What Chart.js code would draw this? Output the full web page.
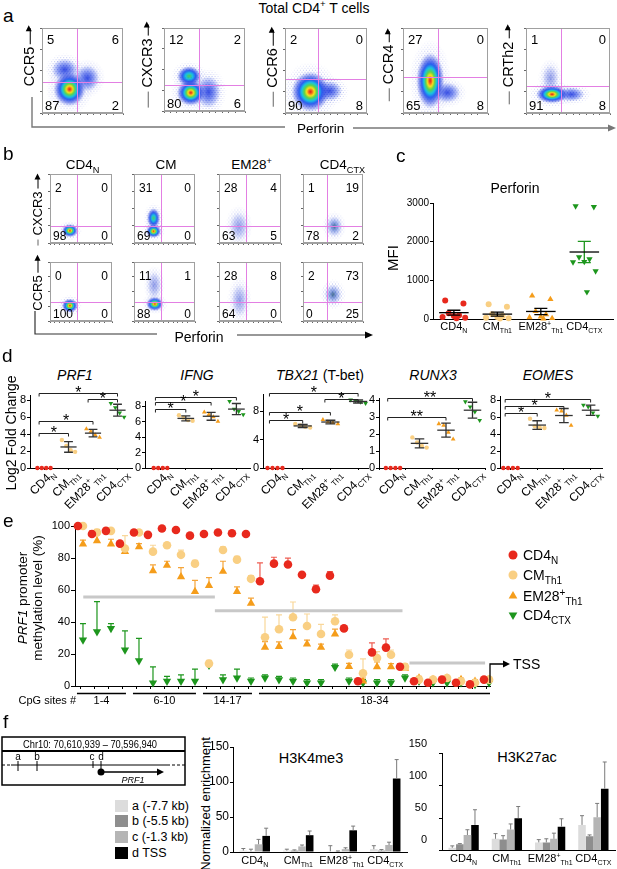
<!DOCTYPE html>
<html>
<head>
<meta charset="utf-8">
<title>PRF1 in CD4 CTX</title>
<script src="https://cdn.jsdelivr.net/npm/chart.js@4.4.1/dist/chart.umd.min.js"></script>
<style>
  body { margin: 0; background: #fff; }
  #page { position: relative; width: 617px; height: 869px; overflow: hidden; font-family: 'Liberation Sans', Arial, sans-serif; color: #000; }
  #page canvas { position: absolute; }
  .t { position: absolute; white-space: nowrap; line-height: 1; }
  .c { transform: translate(-50%, -50%); }
  .v { transform: translate(0, -50%); }
  .r { transform: translate(-50%, -50%) rotate(-90deg); }
  .t sub, .t sup { font-size: 68%; line-height: 0; }
  svg { position: absolute; left: 0; top: 0; }
</style>
</head>
<body>
<div id="page"></div>
<script>
const FONT = "'Liberation Sans', Arial, Helvetica, sans-serif";

// ===== data =====
// a: total CD4+ T cells, receptor (y) vs perforin (x); quadrant % = UL, UR, LL, LR
const aMarkers = ['CCR5', 'CXCR3', 'CCR6', 'CCR4', 'CRTh2'];
const aQuadPct = [[5, 6, 87, 2], [12, 2, 80, 6], [2, 0, 90, 8], [27, 0, 65, 8], [1, 0, 91, 8]];
const aGates = [[43, 37], [43, 31], [40, 40], [41, 42], [42, 32]];
const aClusters = [
  [[28, 51], [56, 41], [34, 28]],
  [[31, 42], [55, 23], [33, 22]],
  [[54, 26], [31, 25]],
  [[52, 24], [32, 38]],
  [[29, 41], [54, 22], [31, 22]]
];

// b: sorted subsets, CXCR3 / CCR5 vs perforin
const bPops = ['CD4_{N}', 'CM', 'EM28^{+}', 'CD4_{CTX}'];
const bMarkers = ['CXCR3', 'CCR5'];
const bQuadPct = [
  [[2, 0, 98, 0], [31, 0, 69, 0], [28, 4, 63, 5], [1, 19, 78, 2]],
  [[0, 0, 100, 0], [11, 1, 88, 0], [28, 8, 64, 0], [2, 73, 0, 25]]
];
const bGatesX = [43, 44, 43, 40];
const bGatesY = [25, 33];
const bClusters = [
  [[[32, 18]], [[32, 36], [32, 17]], [[32, 24]], [[52, 24]]],
  [[[32, 26]], [[33, 61], [34, 29]], [[33, 35]], [[50, 45]]]
];

// c: perforin MFI
const cGroups = ['CD4_{N}', 'CM_{Th1}', 'EM28^{+}_{Th1}', 'CD4_{CTX}'];
const cCD4N = [480, 400, 150, 100, 80, 50, 30, 20];
const cCM = [380, 320, 120, 80, 50, 30, 20, 10];
const cEM28 = [600, 510, 200, 120, 60, 40, 20, 10];
const cCTX = [2920, 2900, 1600, 1550, 1480, 1470, 1240, 700];

// d: log2 fold change vs CD4N (rows: CD4N, CM, EM28, CTX)
const dGenes = ['PRF1', 'IFNG', 'TBX21', 'RUNX3', 'EOMES'];
const dPRF1 = [[0, 0, 0, 0], [3.3, 2.6, 2.1, 1.9], [4.6, 4.3, 3.9, 3.6], [7.6, 7.1, 6.5, 6.0]];
const dIFNG = [[0, 0, 0, 0], [6.8, 6.5, 6.2, 6.1], [7.2, 6.9, 6.6, 6.0], [8.6, 7.6, 7.3, 6.9]];
const dTBX21 = [[0, 0, 0, 0], [6.2, 6.0, 5.8, 5.7], [6.8, 6.5, 6.4, 6.2], [9.6, 9.5, 9.3, 9.1]];
const dRUNX3 = [[0, 0, 0, 0], [1.8, 1.5, 1.3, 1.2], [2.6, 2.5, 2.1, 1.7], [3.9, 3.6, 3.3, 2.8]];
const dEOMES = [[0, 0, 0, 0], [5.8, 4.9, 4.8, 4.7], [6.8, 6.7, 6.2, 5.0], [7.4, 7.2, 6.5, 6.1]];
// significance: [from group, to group, label, bracket height]
const dSig = [
  [[0, 3, '*', 8.8], [2, 3, '*', 8.1], [0, 2, '*', 5.5], [0, 1, '*', 4.1]],
  [[0, 3, '*', 9.2], [0, 2, '*', 8.5], [0, 1, '*', 7.6]],
  [[0, 3, '*', 10.6], [2, 3, '*', 9.7], [0, 2, '*', 7.9], [0, 1, '*', 6.8]],
  [[0, 3, '**', 4.1], [0, 2, '**', 3.0]],
  [[0, 3, '*', 8.1], [0, 2, '*', 7.3], [0, 1, '*', 6.5]]
];

// e: PRF1 promoter CpG methylation (%), mean and upper SEM
const eSites = [1, 2, 3, 4, 6, 7, 8, 9, 10, 14, 15, 16, 17, 18, 19, 20, 21, 22, 23, 24, 25, 26, 27, 28, 29, 30, 31, 32, 33, 34];
const eCD4N = [100, 95, 97, 89, 96, 94.5, 98.5, 97.5, 94, 95, 96, 95.5, 95, 65.5, 76.5, 76, 69.5, 60.5, 69, 36, 3, 21, 24, 12, 3, 2, 4, 2, 1, 4];
const eCD4Nerr = [0, 2, 1.5, 1, 0.5, 1, 1, 1, 1, 1, 1, 1, 1.5, 11.5, 4, 4, 0.5, 2.5, 2.5, 0.5, 0.5, 6, 5.5, 2, 1, 1, 1, 1, 1, 1];
const eCM = [100, 96, 97, 86, 96, 84, 88, 82, 76.5, 14, 85, 79, 67, 30.5, 35.5, 43, 37.5, 32.5, 40.5, 19.5, 8, 17.5, 19.5, 12, 4, 4, 5, 3, 2, 4];
const eCMerr = [0, 2, 1, 8, 1, 4, 1, 3, 2, 2, 2, 2, 2, 12.5, 9, 9.5, 7.5, 6, 4, 3, 9, 4, 3, 2, 1, 1, 1, 1, 1, 1];
const eEM28 = [88.75, 90.8, 88.75, 84, 87, 72, 75.5, 68.3, 59, 62.8, 71.6, 59, 51.7, 24.2, 24.6, 30.8, 26.2, 24.2, 32.5, 12.1, 3, 12, 12, 11, 5, 4, 5, 4, 3, 4];
const eEM28err = [2.5, 7, 3, 2, 2, 3.7, 2.5, 5.7, 7, 5, 6.4, 3, 3.2, 3.5, 3, 4.5, 2.5, 2, 3, 2, 2, 3, 2, 2, 1, 1, 1, 1, 1, 1];
const eCTX = [28.75, 34, 36, 22.5, 15.8, 2, 3, 3, 3, 13, 4, 5, 3, 5, 4, 3, 2, 2, 11.7, 3, 2, 2, 2, 5, 3, 2, 2, 2, 1, 2];
const eCTXerr = [10.25, 18.7, 3, 12, 14, 10, 3, 4, 7.6, 2, 3, 5.6, 2, 2, 2, 2, 2, 2, 2, 2, 2, 2, 2, 2, 1, 1, 1, 1, 1, 1];
const eGroups = [['1-4', 1, 4], ['6-10', 6, 10], ['14-17', 14, 17], ['18-34', 18, 34]];
// grey region means: [from slot, to slot, level]
const eMeanLines = [[0.2, 9.6, 55.6], [9.6, 23, 47], [23.5, 28.9, 14.4]];
const eLegend = ['CD4_{N}', 'CM_{Th1}', 'EM28^{+}_{Th1}', 'CD4_{CTX}'];

// f: ChIP enrichment (rows: site a, b, c, d TSS; cols: groups)
const fGroups = ['CD4_{N}', 'CM_{Th1}', 'EM28^{+}_{Th1}', 'CD4_{CTX}'];
const fSites = ['a (-7.7 kb)', 'b (-5.5 kb)', 'c (-1.3 kb)', 'd TSS'];
const fK4me3 = [[2, 2, 1, 4], [1, 2, 0.5, 2], [11, 8, 4, 10], [23, 24, 31, 105]];
const fK4me3Err = [[3, 2, 8, 5], [3, 1, 1, 1.5], [7, 2, 2, 4], [11, 6, 6, 27]];
const fK27ac = [[4, 18, 12.4, 39.5], [9.5, 16.7, 12.4, 21.9], [23.8, 32.4, 18, 51.4], [39.5, 50, 36.7, 95.7]];
const fK27acErr = [[3, 8, 4.3, 14.3], [1, 6.1, 5.6, 2.1], [8.2, 8.6, 8.7, 21.4], [23.5, 18, 12.3, 41.3]];

// ===== style / layout =====
const COL = ['#e8291d', '#f9cf83', '#f59d1b', '#1d961d'];
const ERRCOL = ['#ee5d52', '#f9d79a', '#f5a53a', '#1d961d'];
const MARK = [['circle', 0], ['circle', 0], ['triangle', 0], ['triangle', 180]];
const FCOL = ['#dcdcdc', '#8e8e8e', '#b5b5b5', '#000000'];
const aBoxes = [[40, 23, 128, 115], [162, 23, 250, 113], [283, 23, 372, 115], [401, 23, 493, 115], [524, 23, 615, 115]];
const aBlobs = [
  [['cool', 26, 22], ['cool', 24, 26], ['hot', 32, 34]],
  [['warm', 24, 20], ['cool', 24, 32], ['hot', 28, 26]],
  [['cool', 26, 20], ['hot', 38, 40]],
  [['cool', 26, 20], ['hot', 28, 56]],
  [['faint', 16, 26], ['cool', 26, 14], ['hot', 32, 18]]
];
const aLab = [[29, 57, 0, 16], [147, 66, 16, 11], [272, 68, 15, 16], [388, 66, 13, 11], [508, 66, 13, 11]];
const bCols = [[48, 117], [132, 200], [217, 286], [301, 368]];
const bRows = [[169, 245], [257, 323]];
const bBlobs = [
  [[['hot', 16, 13]], [['warm', 13, 20], ['hot', 15, 13]], [['faint', 18, 28]], [['gray', 16, 20]]],
  [[['hot', 16, 14]], [['faint', 14, 26], ['hot', 17, 14]], [['faint', 16, 32]], [['gray', 17, 20]]]
];
const cJit = [-0.2, 0.22, -0.12, 0.12, 0, -0.26, 0.26, 0.06];
const dJit = [-0.27, -0.09, 0.09, 0.27];
// [axis x, zero y, px per unit, y max, first group x, group step, axis end x, tick step]
const dGeom = [
  [30, 468, 8.5, 8.5, 44, 24.5, 132, 2],
  [145, 468, 7.75, 8.6, 160.5, 25.3, 250, 2],
  [263, 468, 7.1, 10.3, 275, 27.7, 368, 2],
  [379, 468, 17, 4.1, 393, 26.5, 485, 1],
  [500, 468, 8.5, 8.4, 510.5, 26.7, 602, 2]
];

Chart.defaults.font.family = FONT;
Chart.defaults.color = '#000';
Chart.defaults.animation = false;
Chart.defaults.events = [];
Chart.defaults.plugins.legend.display = false;
Chart.defaults.plugins.tooltip.enabled = false;

const page = document.getElementById('page');
const plain = v => String(v);

function addCanvas(l, t, w, h) {
  const c = document.createElement('canvas');
  c.width = w; c.height = h;
  c.style.left = l + 'px'; c.style.top = t + 'px';
  c.style.width = w + 'px'; c.style.height = h + 'px';
  page.appendChild(c);
  return c;
}
function rich2html(s) {
  return s.replace(/_\{([^}]*)\}/g, '<sub>$1</sub>').replace(/\^\{([^}]*)\}/g, '<sup>$1</sup>');
}
function text(html, x, y, size, cls, extra) {
  const d = document.createElement('div');
  d.className = 't ' + (cls || '');
  d.style.left = x + 'px'; d.style.top = y + 'px'; d.style.fontSize = size + 'px';
  if (extra) d.style.cssText += extra;
  d.innerHTML = html;
  page.appendChild(d);
}
function richParts(s) {
  const out = [], re = /([_^])\{([^}]*)\}|([^_^]+)/g;
  let m;
  while ((m = re.exec(s))) out.push(m[3] ? { t: m[3], k: 0 } : { t: m[2], k: m[1] === '_' ? 1 : -1 });
  return out;
}
function drawRich(ctx, s, x, y, size, align) {
  const parts = richParts(s);
  let w = 0;
  parts.forEach(p => {
    p.f = (p.k ? Math.round(size * 0.68) : size) + 'px ' + FONT;
    ctx.font = p.f; p.w = ctx.measureText(p.t).width; w += p.w;
  });
  let cx = align === 'right' ? x - w : align === 'center' ? x - w / 2 : x;
  ctx.textAlign = 'left'; ctx.textBaseline = 'alphabetic';
  parts.forEach(p => {
    ctx.font = p.f;
    ctx.fillText(p.t, cx, y + (p.k === 1 ? size * 0.28 : p.k === -1 ? -size * 0.38 : 0));
    cx += p.w;
  });
}

// density blobs for the flow plots: a dotted halo plus a coloured core
const blobStops = {
  hot: [[0, '#d8161a'], [0.1, '#f36a1a'], [0.2, '#fbe21e'], [0.32, '#5fd447'], [0.46, '#19c4e3'], [0.6, '#2b5cf0'], [0.78, 'rgba(45,70,225,0.55)'], [1, 'rgba(70,95,235,0)']],
  warm: [[0, '#56cf4a'], [0.3, '#19c4e3'], [0.55, '#2b5cf0'], [0.8, 'rgba(45,70,225,0.45)'], [1, 'rgba(70,95,235,0)']],
  cool: [[0, 'rgba(35,60,225,0.9)'], [0.45, 'rgba(45,75,230,0.6)'], [0.75, 'rgba(60,90,235,0.3)'], [1, 'rgba(80,110,240,0)']],
  faint: [[0, 'rgba(70,90,215,0.55)'], [0.6, 'rgba(90,110,225,0.28)'], [1, 'rgba(110,130,235,0)']],
  gray: [[0, 'rgba(40,90,120,0.85)'], [0.35, 'rgba(60,100,200,0.6)'], [0.75, 'rgba(90,120,230,0.25)'], [1, 'rgba(110,130,235,0)']]
};
function ellipseGrad(g, cx, cy, rx, ry, stops) {
  g.save();
  g.translate(cx, cy); g.scale(rx, ry);
  const grad = g.createRadialGradient(0, 0, 0, 0, 0, 1);
  stops.forEach(([o, col]) => grad.addColorStop(o, col));
  g.fillStyle = grad; g.fillRect(-1, -1, 2, 2);
  g.restore();
}
function makeBlob([kind, w, h]) {
  const W = Math.round(w * 1.5), H = Math.round(h * 1.5);
  const c = document.createElement('canvas');
  c.width = W; c.height = H;
  const g = c.getContext('2d');
  g.fillStyle = 'rgba(45,65,215,0.75)';
  for (let yy = 0; yy < H; yy += 2) {
    for (let xx = (yy / 2) % 2 ? 1.5 : 0; xx < W; xx += 3) g.fillRect(xx, yy, 1, 1);
  }
  g.globalCompositeOperation = 'destination-in';
  ellipseGrad(g, W / 2, H / 2, W / 2, H / 2, [[0, 'rgba(0,0,0,1)'], [0.6, 'rgba(0,0,0,0.6)'], [1, 'rgba(0,0,0,0)']]);
  g.globalCompositeOperation = 'source-over';
  ellipseGrad(g, W / 2, H / 2, w / 2, h / 2, blobStops[kind]);
  return c;
}

const quadPlugin = (gate, pct, size, topOff) => ({
  id: 'quad',
  afterDraw(chart) {
    const { ctx, chartArea: a, scales: { x, y } } = chart;
    const gx = Math.round(x.getPixelForValue(gate[0])) + 0.5, gy = Math.round(y.getPixelForValue(gate[1])) + 0.5;
    ctx.save();
    ctx.strokeStyle = '#e37fe3'; ctx.lineWidth = 1;
    ctx.beginPath(); ctx.moveTo(gx, a.top); ctx.lineTo(gx, a.bottom); ctx.moveTo(a.left, gy); ctx.lineTo(a.right, gy); ctx.stroke();
    ctx.strokeStyle = '#a0a0a0';
    ctx.strokeRect(a.left + 0.5, a.top + 0.5, a.width - 1, a.height - 1);
    ctx.fillStyle = '#000'; ctx.font = size + 'px ' + FONT;
    ctx.textBaseline = 'top';
    ctx.textAlign = 'left'; ctx.fillText(pct[0], a.left + 5, a.top + topOff);
    ctx.textAlign = 'right'; ctx.fillText(pct[1], a.right - 4, a.top + topOff);
    ctx.textBaseline = 'alphabetic';
    ctx.textAlign = 'left'; ctx.fillText(pct[2], a.left + 3, a.bottom - 3);
    ctx.textAlign = 'right'; ctx.fillText(pct[3], a.right - 4, a.bottom - 3);
    ctx.restore();
  }
});

function flowPlot(box, gate, pct, clusters, blobs, numSize, topOff) {
  const [x0, y0, x1, y1] = box;
  const cv = addCanvas(x0 - 4, y0 - 1, x1 - x0 + 5, y1 - y0 + 5);
  const imgs = blobs.map(makeBlob);
  const ax = (step, fit) => ({
    min: 0, max: 100,
    ticks: { display: false, stepSize: step },
    grid: { drawOnChartArea: false, tickLength: 2, color: '#666' },
    border: { color: '#a0a0a0' },
    afterFit: fit
  });
  new Chart(cv, {
    type: 'scatter',
    data: { datasets: [{ data: clusters.map(([x, y]) => ({ x, y })), pointStyle: c => imgs[c.dataIndex], pointRadius: 5 }] },
    options: {
      responsive: false,
      layout: { padding: { top: 1, right: 1 } },
      scales: { x: ax(8, s => { s.height = 4; }), y: ax(25, s => { s.width = 4; }) }
    },
    plugins: [quadPlugin(gate, pct, numSize, topOff)]
  });
}

function yArrowLabel(label, cx, cy, size, lineLen, arrowLen) {
  const line = lineLen ? `<span style="display:inline-block;width:${lineLen}px;border-top:1.3px solid #666;vertical-align:middle;margin-right:4px"></span>` : '';
  const arrow = `<span style="display:inline-block;width:${arrowLen}px;border-top:1.3px solid #000;vertical-align:middle;margin-left:3px;position:relative"><span style="position:absolute;right:-3px;top:-4.3px;width:0;height:0;border-left:6px solid #000;border-top:3.5px solid transparent;border-bottom:3.5px solid transparent"></span></span>`;
  text(line + label + arrow, cx, cy, size, 'r');
}

function groupStats(vals) {
  const n = vals.length, m = vals.reduce((a, b) => a + b, 0) / n;
  const sd = Math.sqrt(vals.reduce((a, b) => a + (b - m) ** 2, 0) / (n - 1));
  return { m, sd, sem: sd / Math.sqrt(n) };
}
const meanBars = (groups, useSem, lineCols, whiskCols, half, cap) => ({
  id: 'meanBars',
  afterDatasetsDraw(chart) {
    const { ctx, scales: { x, y } } = chart;
    ctx.save(); ctx.lineWidth = 1.3;
    groups.forEach((vals, i) => {
      const s = groupStats(vals);
      if (s.m === 0) return;
      const e = useSem ? s.sem : s.sd;
      const cx = x.getPixelForValue(i), ym = y.getPixelForValue(s.m);
      const yt = y.getPixelForValue(s.m + e), yb = y.getPixelForValue(s.m - e);
      const hw = x.getPixelForValue(i + half) - cx, cw = x.getPixelForValue(i + cap) - cx;
      ctx.strokeStyle = whiskCols[i];
      ctx.beginPath();
      ctx.moveTo(cx, yt); ctx.lineTo(cx, yb);
      ctx.moveTo(cx - cw, yt); ctx.lineTo(cx + cw, yt);
      ctx.moveTo(cx - cw, yb); ctx.lineTo(cx + cw, yb);
      ctx.stroke();
      ctx.strokeStyle = lineCols[i];
      ctx.beginPath(); ctx.moveTo(cx - hw, ym); ctx.lineTo(cx + hw, ym); ctx.stroke();
    });
    ctx.restore();
  }
});
const sigBrackets = sig => ({
  id: 'sig',
  afterDraw(chart) {
    const { ctx, scales: { x, y } } = chart;
    ctx.save(); ctx.strokeStyle = '#222'; ctx.lineWidth = 1; ctx.fillStyle = '#000';
    ctx.font = '16px ' + FONT; ctx.textAlign = 'center'; ctx.textBaseline = 'alphabetic';
    sig.forEach(([i, j, lab, v]) => {
      const x0 = x.getPixelForValue(i - 0.2), x1 = x.getPixelForValue(j), yy = Math.round(y.getPixelForValue(v)) + 0.5;
      ctx.beginPath(); ctx.moveTo(x0, yy + 3); ctx.lineTo(x0, yy); ctx.lineTo(x1, yy); ctx.lineTo(x1, yy + 3); ctx.stroke();
      ctx.fillText(lab, (x0 + x1) / 2, yy + 4);
    });
    ctx.restore();
  }
});
const richTicks = (labels, size, dy, rotate) => ({
  id: 'richTicks',
  afterDraw(chart) {
    const { ctx, scales: { x, y } } = chart;
    ctx.save(); ctx.fillStyle = '#000';
    labels.forEach((lab, i) => {
      const px = x.getPixelForValue(i);
      if (rotate) {
        ctx.save(); ctx.translate(px + 8, y.bottom + 3); ctx.rotate(-Math.PI / 4);
        drawRich(ctx, lab, 0, dy, size, 'right'); ctx.restore();
      } else drawRich(ctx, lab, px, y.bottom + dy, size, 'center');
    });
    ctx.restore();
  }
});
const axisStyle = { grid: { drawOnChartArea: false, tickLength: 3, color: '#000' }, border: { color: '#000' } };

// ===== panel a =====
text('a', 3, 6, 19);
text('Total CD4<sup>+</sup> T cells', 314, 8, 14, 'c');
aMarkers.forEach((m, i) => {
  flowPlot(aBoxes[i], aGates[i], aQuadPct[i], aClusters[i], aBlobs[i], 13, 6);
  yArrowLabel(m, aLab[i][0], aLab[i][1], 14.5, aLab[i][2], aLab[i][3]);
});
text('Perforin', 297, 129, 13.5, 'v');

// ===== panel b =====
text('b', 3, 144, 19);
bPops.forEach((p, j) => text(rich2html(p), (bCols[j][0] + bCols[j][1]) / 2 + (j === 3 ? 8 : 0), 165, 13.5, 'c'));
bMarkers.forEach((m, r) => {
  bPops.forEach((p, j) => {
    flowPlot([bCols[j][0], bRows[r][0], bCols[j][1], bRows[r][1]], [bGatesX[j], bGatesY[r]], bQuadPct[r][j], bClusters[r][j], bBlobs[r][j], 12, 9);
  });
});
yArrowLabel('CXCR3', 37, 211, 13, 6, 12);
yArrowLabel('CCR5', 37, 284, 13, 0, 15);
text('Perforin', 199, 337, 14, 'c');

// ===== panel c =====
text('c', 396, 146, 19);
text('Perforin', 515, 188, 14, 'c');
text('MFI', 392, 258, 15, 'r');
const cData = [cCD4N, cCM, cEM28, cCTX];
new Chart(addCanvas(392, 195, 225, 145), {
  type: 'scatter',
  data: {
    datasets: cData.map((vals, k) => ({
      data: vals.map((v, j) => ({ x: k + cJit[j], y: v })),
      pointStyle: MARK[k][0], rotation: MARK[k][1], pointRadius: k < 2 ? 3 : 3.6,
      backgroundColor: COL[k], borderWidth: 0, clip: false
    }))
  },
  options: {
    responsive: false,
    layout: { padding: { top: 8, right: 2 } },
    scales: {
      x: { type: 'linear', min: -0.48, max: 3.66, ticks: { display: false },
        grid: { drawOnChartArea: false, drawTicks: false, color: '#000' }, border: { color: '#000' },
        afterFit: s => { s.height = 21; } },
      y: { min: 0, max: 3000, ticks: { stepSize: 1000, font: { size: 10 }, padding: 1, callback: plain }, ...axisStyle,
        afterFit: s => { s.width = 41; } }
    }
  },
  plugins: [meanBars(cData, true, ['#000', '#000', '#000', '#000'], ['#000', '#000', '#000', COL[3]], 0.34, 0.15),
    richTicks(cGroups, 11, 11, false)]
});

// ===== panel d =====
text('d', 2, 346, 19);
text('Log2 Fold Change', 11, 433, 14, 'r');
const dVals = [dPRF1, dIFNG, dTBX21, dRUNX3, dEOMES];
const dTitleX = [75, 197, 320, 433, 548];
dGenes.forEach((gname, idx) => {
  text(gname === 'TBX21' ? '<i>TBX21</i> (T-bet)' : '<i>' + gname + '</i>', dTitleX[idx], 375, 14, 'c');
  const g = dGeom[idx], vals = dVals[idx];
  const left = g[0] - 30, top = 380;
  const areaTop = g[1] - g[3] * g[2];
  new Chart(addCanvas(left, top, g[6] - left + 4, 130), {
    type: 'scatter',
    data: {
      datasets: vals.map((v, k) => ({
        data: v.map((yv, j) => ({ x: k + dJit[j], y: yv })),
        pointStyle: MARK[k][0], rotation: MARK[k][1], pointRadius: k < 2 ? 2.2 : 2.7,
        backgroundColor: COL[k], borderWidth: 0, clip: false
      }))
    },
    options: {
      responsive: false,
      layout: { padding: { top: areaTop - top, right: 4 } },
      scales: {
        x: { type: 'linear', min: (g[0] - g[4]) / g[5], max: (g[6] - g[4]) / g[5],
          ticks: { display: false, stepSize: 1, includeBounds: false },
          grid: { drawOnChartArea: false, tickLength: 2, color: '#000' }, border: { color: '#000' },
          afterFit: s => { s.height = 510 - g[1]; } },
        y: { min: 0, max: g[3], ticks: { stepSize: g[7], includeBounds: false, font: { size: 11 }, padding: 1, callback: plain }, ...axisStyle,
          afterFit: s => { s.width = 30; } }
      }
    },
    plugins: [meanBars(vals, false, ['#333', '#333', '#333', '#333'], ['#333', '#333', '#333', '#333'], 0.33, 0.18),
      sigBrackets(dSig[idx]), richTicks(cGroups, 12, 5, true)]
  });
});

// ===== panel e =====
text('e', 3, 511, 19);
text('<i>PRF1</i> promoter<br>methylation level (%)', 30, 598, 13.5, 'r', 'text-align:center;line-height:15px;');
const eSer = [[eCD4N, eCD4Nerr, -0.18], [eCM, eCMerr, 0.18], [eEM28, eEM28err, 0.18], [eCTX, eCTXerr, 0.18]];
function marker(ctx, k, x, y, r) {
  ctx.fillStyle = COL[k]; ctx.beginPath();
  if (MARK[k][0] === 'circle') ctx.arc(x, y, r, 0, Math.PI * 2);
  else {
    const d = MARK[k][1] ? -1 : 1;
    ctx.moveTo(x, y - d * r); ctx.lineTo(x + r * 0.87, y + d * r * 0.5); ctx.lineTo(x - r * 0.87, y + d * r * 0.5); ctx.closePath();
  }
  ctx.fill();
}
const E_TOP = 512;
const eExtras = {
  id: 'eExtras',
  beforeDatasetsDraw(chart) {
    const { ctx, scales: { x, y } } = chart;
    ctx.save(); ctx.lineWidth = 1.2;
    eSer.forEach(([vals, errs, off], k) => {
      ctx.strokeStyle = ERRCOL[k];
      vals.forEach((v, i) => {
        if (!errs[i]) return;
        const px = x.getPixelForValue(i + off), y0 = y.getPixelForValue(v), y1 = y.getPixelForValue(v + errs[i]);
        ctx.beginPath(); ctx.moveTo(px, y0); ctx.lineTo(px, y1); ctx.moveTo(px - 3, y1); ctx.lineTo(px + 3, y1); ctx.stroke();
      });
    });
    ctx.restore();
  },
  afterDraw(chart) {
    const { ctx, chartArea: a, scales: { x } } = chart;
    ctx.save();
    // CpG site groups
    ctx.strokeStyle = '#000'; ctx.lineWidth = 1.3; ctx.fillStyle = '#000';
    eGroups.forEach(([lab, s0, s1], gi) => {
      const x0 = x.getPixelForValue(eSites.indexOf(s0) - 0.25);
      const x1 = gi === eGroups.length - 1 ? a.right : x.getPixelForValue(eSites.indexOf(s1) + 0.25);
      ctx.beginPath(); ctx.moveTo(x0, a.bottom + 7.5); ctx.lineTo(x1, a.bottom + 7.5); ctx.stroke();
      ctx.font = '11px ' + FONT; ctx.textAlign = 'center'; ctx.textBaseline = 'alphabetic';
      ctx.fillText(lab, (x0 + x1) / 2, a.bottom + 18);
    });
    ctx.textAlign = 'right';
    ctx.fillText('CpG sites #', a.left + 1, a.bottom + 18);
    // TSS marker
    ctx.lineWidth = 1.3;
    ctx.beginPath(); ctx.moveTo(a.right, a.bottom - 3); ctx.lineTo(a.right, a.bottom - 22); ctx.lineTo(a.right + 14, a.bottom - 22); ctx.stroke();
    ctx.beginPath(); ctx.moveTo(a.right + 20, a.bottom - 22); ctx.lineTo(a.right + 13, a.bottom - 25.5); ctx.lineTo(a.right + 13, a.bottom - 18.5); ctx.closePath(); ctx.fill();
    ctx.font = '14px ' + FONT; ctx.textAlign = 'left';
    ctx.fillText('TSS', a.right + 23, a.bottom - 17);
    // legend
    const rows = [555, 575, 596, 615];
    eLegend.forEach((lab, k) => {
      const ry = rows[k] - E_TOP;
      marker(ctx, k, 513, ry, k < 2 ? 4.5 : 5);
      ctx.fillStyle = '#000';
      drawRich(ctx, lab, 523, ry + 5, 14, 'left');
    });
    ctx.restore();
  }
};
new Chart(addCanvas(0, E_TOP, 617, 200), {
  type: 'scatter',
  data: {
    datasets: eSer.map(([vals, errs, off], k) => ({
      data: vals.map((v, i) => ({ x: i + off, y: v })),
      pointStyle: MARK[k][0], rotation: MARK[k][1], pointRadius: k < 2 ? 4.3 : 4.8,
      backgroundColor: COL[k], borderWidth: 0, clip: false
    })).concat(eMeanLines.map(([s0, s1, lv]) => ({
      data: [{ x: s0, y: lv }, { x: s1, y: lv }], showLine: true, pointRadius: 0,
      borderColor: '#c8c8c8', borderWidth: 3
    })))
  },
  options: {
    responsive: false,
    layout: { padding: { top: 11, right: 127 } },
    scales: {
      x: { type: 'linear', min: -0.39, max: 29.25, ticks: { display: false, stepSize: 1, includeBounds: false },
        grid: { drawOnChartArea: false, tickLength: 3, color: '#000' }, border: { color: '#000' },
        afterFit: s => { s.height = 26; } },
      y: { min: 0, max: 101.9, ticks: { stepSize: 20, includeBounds: false, font: { size: 11 }, padding: 1, callback: plain },
        grid: { drawOnChartArea: false, tickLength: 4, color: '#000' }, border: { color: '#000' },
        afterFit: s => { s.width = 75; } }
    }
  },
  plugins: [eExtras]
});

// ===== panel f =====
text('f', 3, 712, 19);
fSites.forEach((s, k) => {
  const cy = [806, 821, 837, 853][k];
  text('', 115, cy - 6, 12, '', `width:13px;height:12px;background:${FCOL[k]};`);
  text(s, 132, cy, 12.5, 'v');
});
text('Normalized enrichment', 205, 804, 13, 'r');
text('H3K4me3', 311, 758, 14.5, 'c');
text('H3K27ac', 527, 757, 14.5, 'c');
const barErr = errs => ({
  id: 'barErr',
  afterDatasetsDraw(chart) {
    const { ctx, scales: { y } } = chart;
    ctx.save(); ctx.strokeStyle = '#7a7a7a'; ctx.lineWidth = 1;
    chart.data.datasets.forEach((ds, di) => {
      chart.getDatasetMeta(di).data.forEach((bar, i) => {
        const top = y.getPixelForValue(ds.data[i] + errs[di][i]);
        ctx.beginPath(); ctx.moveTo(bar.x, bar.y); ctx.lineTo(bar.x, top);
        ctx.moveTo(bar.x - 2, top); ctx.lineTo(bar.x + 2, top); ctx.stroke();
      });
    });
    ctx.restore();
  }
});
function histo(left, areaLeft, areaTop, areaBottom, areaRight, vals, errs, tickPad, labelOffset, tickSize) {
  const top = 735, h = 869 - top;
  new Chart(addCanvas(left, top, areaRight - left + 2, h), {
    type: 'bar',
    data: { labels: fGroups, datasets: vals.map((v, k) => ({ data: v, backgroundColor: FCOL[k], barPercentage: 1, categoryPercentage: 0.7 })) },
    options: {
      responsive: false,
      layout: { padding: { top: areaTop - top, right: 2 } },
      scales: {
        x: { ticks: { display: false }, grid: { drawOnChartArea: false, drawTicks: false, color: '#000' }, border: { color: '#000' },
          afterFit: s => { s.height = top + h - areaBottom; } },
        y: { min: 0, max: 150, ticks: { stepSize: 50, font: { size: tickSize }, padding: tickPad, labelOffset, callback: plain }, ...axisStyle,
          afterFit: s => { s.width = areaLeft - left; } }
      }
    },
    plugins: [barErr(errs), richTicks(fGroups, 11, 12, false)]
  });
}
histo(200, 233, 747, 852, 407, fK4me3, fK4me3Err, 1, 0, 12);
histo(398, 442, 746, 851, 615, fK27ac, fK27acErr, 12, -10, 11);

// ===== lines, arrows and locus schematic =====
page.insertAdjacentHTML('beforeend', `
<svg width="617" height="869" xmlns="http://www.w3.org/2000/svg" font-family="Liberation Sans, Arial, sans-serif">
  <g stroke="#777" stroke-width="1.4" fill="none">
    <polyline points="32,97 32,127 285,127"/>
    <line x1="353" y1="128" x2="609" y2="128"/>
  </g>
  <polygon points="608,124.5 616,128 608,131.5" fill="#777"/>
  <g stroke="#333" stroke-width="1.2" fill="none">
    <polyline points="35,311 35,334 157,334"/>
    <line x1="237" y1="335" x2="366" y2="335"/>
  </g>
  <polygon points="365,331.5 373,335 365,338.5" fill="#000"/>
  <rect x="2" y="737" width="183" height="48" fill="none" stroke="#000" stroke-width="1.5"/>
  <line x1="2" y1="751" x2="185" y2="751" stroke="#000" stroke-width="2"/>
  <text x="23" y="748" font-size="10" textLength="134" lengthAdjust="spacingAndGlyphs">Chr10: 70,610,939 – 70,596,940</text>
  <g stroke="#000" stroke-width="1">
    <line x1="2" y1="765" x2="11" y2="765" stroke-dasharray="3,2"/>
    <line x1="11" y1="765" x2="170" y2="765"/>
    <line x1="172" y1="765" x2="185" y2="765" stroke-dasharray="3,2"/>
    <line x1="18" y1="761" x2="18" y2="771"/>
    <line x1="37" y1="761" x2="37" y2="771"/>
    <line x1="93" y1="761" x2="93" y2="768"/>
    <line x1="101" y1="761" x2="101" y2="772"/>
    <line x1="101" y1="772" x2="158" y2="772" stroke-width="1.3"/>
  </g>
  <polygon points="157,768.5 164,772 157,775.5" fill="#000"/>
  <circle cx="101" cy="772" r="3.5" fill="#000"/>
  <g font-size="10" text-anchor="middle">
    <text x="18" y="760">a</text><text x="37" y="760">b</text><text x="92" y="760">c</text><text x="101" y="760">d</text>
  </g>
  <text x="133" y="783" font-size="9" font-style="italic" text-anchor="middle">PRF1</text>
</svg>`);
</script>
</body>
</html>
